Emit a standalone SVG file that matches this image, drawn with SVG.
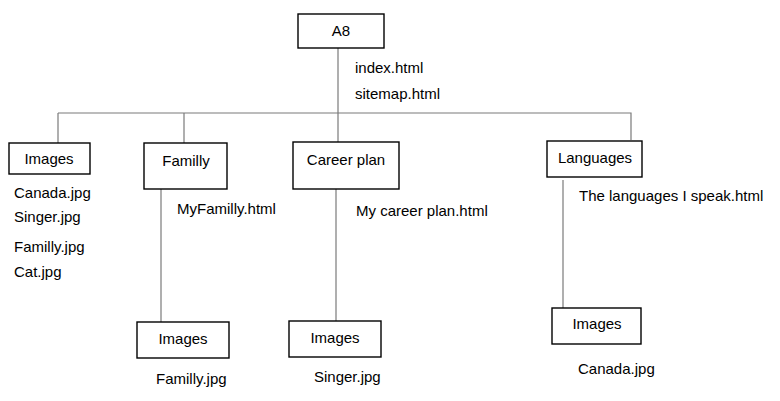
<svg xmlns="http://www.w3.org/2000/svg" width="780" height="401" viewBox="0 0 780 401">
  <style>
    .box { fill: #ffffff; stroke: #000000; stroke-width: 1.4; }
    .conn { fill: none; stroke: #7a7a7a; stroke-width: 1.2; }
    text { font-family: "Liberation Sans", Arial, sans-serif; font-size: 15px; fill: #000000; }
    .c { text-anchor: middle; }
  </style>
  <rect width="780" height="401" fill="#ffffff"/>

  <!-- tree connectors -->
  <g id="connectors">
    <path class="conn" d="M338,48 V113"/>
    <path class="conn" d="M58,113 H631 V140"/>
    <path class="conn" d="M58,113 V143"/>
    <path class="conn" d="M184,113 V143"/>
    <path class="conn" d="M338,113 V142"/>
    <path class="conn" d="M161,189 V322"/>
    <path class="conn" d="M336,189 V321"/>
    <path class="conn" d="M563,180 V308"/>
  </g>

  <g id="node-a8">
    <rect class="box" x="298" y="14" width="86" height="34"/>
    <text class="c" x="341" y="36">A8</text>
    <text x="355" y="73">index.html</text>
    <text x="355" y="99">sitemap.html</text>
  </g>

  <g id="node-images-root">
    <rect class="box" x="9" y="143" width="81" height="31"/>
    <text class="c" x="49" y="164">Images</text>
    <text x="14" y="198">Canada.jpg</text>
    <text x="14" y="222">Singer.jpg</text>
    <text x="14" y="252">Familly.jpg</text>
    <text x="14" y="277">Cat.jpg</text>
  </g>

  <g id="node-familly">
    <rect class="box" x="144" y="143" width="83" height="46"/>
    <text class="c" x="186" y="166">Familly</text>
    <text x="177" y="214">MyFamilly.html</text>
  </g>

  <g id="node-career">
    <rect class="box" x="293" y="142" width="106" height="47"/>
    <text class="c" x="346" y="165">Career plan</text>
    <text x="356" y="216">My career plan.html</text>
  </g>

  <g id="node-languages">
    <rect class="box" x="547" y="141" width="95" height="36"/>
    <text class="c" x="595" y="163">Languages</text>
    <text x="579" y="201">The languages I speak.html</text>
  </g>

  <g id="node-images-familly">
    <rect class="box" x="137" y="322" width="92" height="36"/>
    <text class="c" x="183" y="344">Images</text>
    <text x="156" y="384">Familly.jpg</text>
  </g>

  <g id="node-images-career">
    <rect class="box" x="289" y="321" width="92" height="36"/>
    <text class="c" x="335" y="343">Images</text>
    <text x="314" y="382">Singer.jpg</text>
  </g>

  <g id="node-images-languages">
    <rect class="box" x="552" y="308" width="89" height="36"/>
    <text class="c" x="597" y="329">Images</text>
    <text x="578" y="374">Canada.jpg</text>
  </g>
</svg>
